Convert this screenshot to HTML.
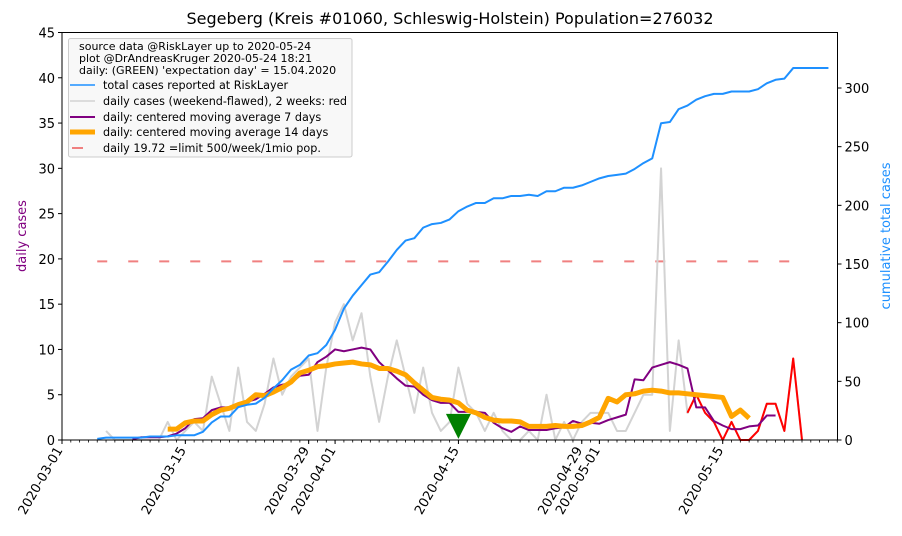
<!DOCTYPE html>
<html><head><meta charset="utf-8"><style>
html,body{margin:0;padding:0;background:#fff;}
svg{display:block;font-family:"DejaVu Sans","Liberation Sans",sans-serif;}
</style></head><body>
<svg id="chart" width="902" height="536" viewBox="0 0 902 536" xmlns="http://www.w3.org/2000/svg">
<rect x="0" y="0" width="902" height="536" fill="#fff"/>
<text x="450" y="24" text-anchor="middle" font-size="16" fill="#000">Segeberg (Kreis #01060, Schleswig-Holstein) Population=276032</text>
<g id="plot"></g>
<rect x="62" y="32.5" width="775.5" height="407.5" fill="none" stroke="#000" stroke-width="1"/>
<g id="axes"></g>
<text transform="translate(26,236) rotate(-90)" text-anchor="middle" font-size="13" fill="#800080">daily cases</text>
<text transform="translate(890,236) rotate(-90)" text-anchor="middle" font-size="13" fill="#1e90ff">cumulative total cases</text>
<g>
<rect x="68.5" y="38.5" width="283.5" height="118.5" rx="2" fill="#f7f7f7" fill-opacity="0.9" stroke="#cccccc" stroke-width="1"/>
<text x="79" y="50" font-size="11" fill="#000">source data @RiskLayer up to 2020-05-24</text>
<text x="79" y="62" font-size="11" fill="#000">plot @DrAndreasKruger 2020-05-24 18:21</text>
<text x="79" y="74" font-size="11" fill="#000">daily: (GREEN) 'expectation day' = 15.04.2020</text>
<g><line x1="70" y1="85" x2="95" y2="85" stroke="#1e90ff" stroke-width="1.5"/><text x="103" y="89" font-size="11.2">total cases reported at RiskLayer</text></g>
<g><line x1="70" y1="101" x2="95" y2="101" stroke="#d3d3d3" stroke-width="1.5"/><text x="103" y="105" font-size="11.2">daily cases (weekend-flawed), 2 weeks: red</text></g>
<g><line x1="70" y1="117" x2="95" y2="117" stroke="#800080" stroke-width="2"/><text x="103" y="121" font-size="11.2">daily: centered moving average 7 days</text></g>
<g><line x1="70" y1="132" x2="95" y2="132" stroke="#ffa500" stroke-width="5"/><text x="103" y="136" font-size="11.2">daily: centered moving average 14 days</text></g>
<g><line x1="72" y1="148" x2="83" y2="148" stroke="#f08080" stroke-width="2"/><text x="103" y="152" font-size="11.2">daily 19.72 =limit 500/week/1mio pop.</text></g>
</g>
</svg>
<script>
// data (day index = days since 2020-03-01)
const dailyStart = 5;
const dailyCases = [1,0,0,0,0,0,0,2,0,1,2,1,7,4,1,8,2,1,4,9,5,7,8,9,1,8,13,15,11,14,7,2,7,11,7,3,8,3,1,2,8,4,3,1,3,1,0,0,1,0,5,0,2,0,2,3,3,3,1,1,3,5,5,30,1,11,3,5,3,2,0,2,0,0,1,4,4,1,9,0];
const redCount = 14;
const totalStart = 4;
const totalCases = [1,2,2,2,2,2,3,3,3,4,4,4,7,15,20,20,28,30,31,36,44,51,60,64,72,74,81,94,112,123,132,141,143,152,162,170,172,181,184,185,188,195,199,202,202,206,206,208,208,209,208,212,212,215,215,217,220,223,225,226,227,231,236,240,270,271,282,285,290,293,295,295,297,297,297,299,304,307,308,317,317,317,317,317];
const ma7Start = 8;
const ma7 = [0.1,0.3,0.3,0.3,0.4,0.7,1.3,2.3,2.4,3.3,3.6,3.6,3.7,4.2,4.5,5.1,5.8,6.1,6.3,7.1,7.2,8.6,9.2,10,9.8,10,10.2,10,8.6,7.7,6.8,6,5.9,5,4.4,4.1,4.1,3.1,3.1,3.1,3.0,1.9,1.3,0.9,1.5,1.1,1.1,1.1,1.3,1.4,2.1,1.8,1.9,1.8,2.2,2.5,2.8,6.7,6.6,8,8.3,8.6,8.3,7.9,3.6,3.6,2.1,1.6,1.2,1.2,1.5,1.6,2.7,2.7];
const ma14Start = 12;
const ma14 = [1.2,1.2,1.9,2.1,2.1,2.8,3.3,3.5,3.9,4.2,5.0,4.9,5.3,5.8,6.4,7.4,7.7,8.1,8.2,8.4,8.5,8.6,8.4,8.3,7.9,7.9,7.6,7.2,6.3,5.5,4.7,4.5,4.4,4.1,3.3,3.0,2.5,2.2,2.1,2.1,2.0,1.5,1.5,1.5,1.6,1.5,1.5,1.6,2.0,2.5,4.6,4.2,5.0,5.1,5.4,5.5,5.4,5.2,5.2,5.1,5.0,4.9,4.8,4.7,2.6,3.3,2.4];
const limitValue = 19.72;
const limitRange = [4, 84];
const expectationDay = 45;
const expectationValue = 1.5;
const leftTicks = [0,5,10,15,20,25,30,35,40,45];
const rightTicks = [0,50,100,150,200,250,300];
const dateTicks = [0,14,28,31,45,59,61,75];
const dateLabels = ["2020-03-01","2020-03-15","2020-03-29","2020-04-01","2020-04-15","2020-04-29","2020-05-01","2020-05-15"];

const NS = "http://www.w3.org/2000/svg";
const X0 = 62, X1 = 837.5, Y0 = 440, YT = 32.5;
const DMAX = 88.03, LMAX = 45, RMAX = 300*(Y0-YT)/(Y0-88);
const xs = d => X0 + (X1-X0)*d/DMAX;
const yl = v => Y0 - (Y0-YT)*v/LMAX;
const yr = v => Y0 - (Y0-YT)*v/RMAX;
const plot = document.getElementById('plot');
const axes = document.getElementById('axes');
function mk(tag, attrs, parent){const e=document.createElementNS(NS,tag);for(const k in attrs)e.setAttribute(k,attrs[k]);parent.appendChild(e);return e;}
function poly(vals, start, yf, color, w, name){
  const pts = vals.map((v,i)=>xs(start+i).toFixed(2)+','+yf(v).toFixed(2)).join(' ');
  const p = mk('polyline',{points:pts,fill:'none',stroke:color,'stroke-width':w,'stroke-linejoin':'round','stroke-linecap':'butt'},plot);
  
  
  return p;
}
const lim = mk('line',{x1:xs(limitRange[0]),x2:xs(limitRange[1]),y1:yl(limitValue),y2:yl(limitValue),stroke:'#f08080','stroke-width':2,'stroke-dasharray':'10 21'},plot);


poly(dailyCases, dailyStart, yl, '#d3d3d3', 2, 'daily-cases-line');
poly(dailyCases.slice(dailyCases.length-redCount), dailyStart+dailyCases.length-redCount, yl, '#ff0000', 2, 'daily-cases-recent-line');
poly(ma7, ma7Start, yl, '#800080', 2, 'ma7-line');
poly(ma14, ma14Start, yl, '#ffa500', 5, 'ma14-line');
poly(totalCases, totalStart, yr, '#1e90ff', 2, 'total-cases-line');
const ex = xs(expectationDay), ey = yl(expectationValue);
const tri = mk('polygon',{points:`${ex-12.5},${ey-12.5} ${ex+12.5},${ey-12.5} ${ex},${ey+12.5}`,fill:'#008000'},plot);


leftTicks.forEach(v=>{
  const y=yl(v);
  mk('line',{x1:X0-4,x2:X0,y1:y,y2:y,stroke:'#000','stroke-width':1},axes);
  const t=mk('text',{x:X0-7,y:y+5,'text-anchor':'end','font-size':13,fill:'#000'},axes);
  t.textContent=v;
  
  
});
rightTicks.forEach(v=>{
  const y=yr(v);
  mk('line',{x1:X1,x2:X1+4,y1:y,y2:y,stroke:'#000','stroke-width':1},axes);
  const t=mk('text',{x:X1+7,y:y+5,'text-anchor':'start','font-size':13,fill:'#000'},axes);
  t.textContent=v;
  
  
});
for(let d=0; d<=88; d++){
  mk('line',{x1:xs(d),x2:xs(d),y1:Y0,y2:Y0+2.5,stroke:'#000','stroke-width':0.8},axes);
}
dateTicks.forEach((d,i)=>{
  const x=xs(d);
  mk('line',{x1:x,x2:x,y1:Y0,y2:Y0+4,stroke:'#000','stroke-width':1},axes);
  const t=mk('text',{transform:`translate(${x+1},${Y0+10}) rotate(-60)`,'text-anchor':'end','font-size':13,fill:'#000'},axes);
  t.textContent=dateLabels[i];
  
  
});
</script>
</body></html>
